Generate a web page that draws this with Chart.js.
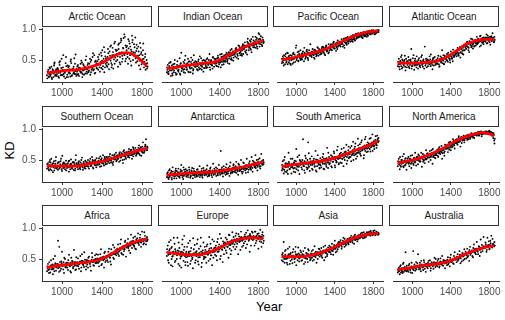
<!DOCTYPE html>
<html lang="en">

<head>
  <meta charset="UTF-8">
  <title>KD by region</title>
  <script src="https://cdn.jsdelivr.net/npm/chart.js"></script>
  <style>
    body {
      margin: 0;
      padding: 0;
      background: #ffffff;
      font-family: 'Liberation Sans', Arial, sans-serif;
    }

    #wrap {
      position: relative;
      width: 505px;
      height: 320px;
      overflow: hidden;
    }

    .strip {
      position: absolute;
      box-sizing: border-box;
      height: 21px;
      width: 110px;
      border: 1px solid #333333;
      background: #ffffff;
      color: #1a1a1a;
      font-size: 10px;
      line-height: 19px;
      text-align: center;
      white-space: nowrap;
    }

    canvas {
      position: absolute;
    }

    .title {
      position: absolute;
      color: #000000;
      font-size: 13px;
    }
  </style>
</head>

<body>
  <div id="wrap">
    <div class="title" style="left:256px;top:299px;">Year</div>
    <div class="title" style="left:0px;top:143px;transform:rotate(-90deg);">KD</div>
  </div>

  <script>
    // facet names, in reading order
    const regions = ['Arctic Ocean', 'Indian Ocean', 'Pacific Ocean', 'Atlantic Ocean',
      'Southern Ocean', 'Antarctica', 'South America', 'North America',
      'Africa', 'Europe', 'Asia', 'Australia'];

    const xTicks = [1000, 1400, 1800];
    const yTicks = [0.5, 1.0];

    // smooth curve, sampled every century
    const lineYears = [850, 950, 1050, 1150, 1250, 1350, 1450, 1550, 1650, 1750, 1850];
    const arcticLine = [0.29, 0.31, 0.33, 0.34, 0.37, 0.42, 0.50, 0.59, 0.62, 0.55, 0.40];
    const indianLine = [0.36, 0.38, 0.41, 0.43, 0.45, 0.47, 0.54, 0.63, 0.71, 0.77, 0.82];
    const pacificLine = [0.50, 0.53, 0.57, 0.61, 0.65, 0.71, 0.78, 0.86, 0.92, 0.96, 0.98];
    const atlanticLine = [0.45, 0.45, 0.45, 0.46, 0.48, 0.54, 0.64, 0.75, 0.81, 0.84, 0.84];
    const southernLine = [0.41, 0.40, 0.40, 0.40, 0.43, 0.46, 0.50, 0.55, 0.60, 0.65, 0.69];
    const antarcticaLine = [0.25, 0.27, 0.28, 0.29, 0.30, 0.31, 0.33, 0.36, 0.39, 0.43, 0.47];
    const southAmLine = [0.39, 0.42, 0.44, 0.46, 0.48, 0.51, 0.56, 0.62, 0.68, 0.74, 0.81];
    const northAmLine = [0.45, 0.48, 0.52, 0.57, 0.64, 0.72, 0.81, 0.88, 0.93, 0.95, 0.90];
    const africaLine = [0.36, 0.39, 0.41, 0.43, 0.45, 0.48, 0.54, 0.64, 0.73, 0.79, 0.83];
    const europeLine = [0.61, 0.59, 0.57, 0.57, 0.59, 0.65, 0.73, 0.80, 0.84, 0.85, 0.83];
    const asiaLine = [0.54, 0.54, 0.54, 0.56, 0.60, 0.66, 0.74, 0.81, 0.87, 0.91, 0.92];
    const australiaLine = [0.33, 0.35, 0.38, 0.40, 0.42, 0.45, 0.51, 0.58, 0.64, 0.69, 0.72];

    // scatter: KD in hundredths, one value per decade from 850 to 1850, three rows per facet
    const arcticDots = [
      '25 31 22 36 28 19 33 41 24 30 27 35 21 48 32 26 38 23 29 55 34 22 40 28 51 25 36 30 44 27 31 42 24 37 29 46 33 26 39 35 28 45 33 52 30 39 61 35 47 41 36 55 44 31 62 49 40 71 38 53 46 68 35 57 74 42 63 51 80 48 66 39 77 55 85 47 70 60 88 52 73 44 81 58 67 90 50 76 62 46 69 53 41 78 60 47 66 38 55 44 36',
      '20 34 27 24 39 30 22 44 26 35 32 23 46 29 37 25 58 31 20 40 26 38 30 23 45 35 28 53 32 24 40 27 36 31 49 22 43 34 28 56 35 30 44 26 50 37 33 58 29 45 48 34 59 42 37 66 45 30 56 50 39 61 52 72 45 58 36 77 54 65 50 75 62 43 82 57 69 92 48 71 60 84 52 72 41 79 63 56 87 65 48 72 58 35 63 51 77 45 60 40 45',
      '31 23 38 26 21 35 28 46 33 24 37 29 42 25 52 34 27 31 45 22 41 29 35 48 24 33 39 27 59 36 26 38 33 44 30 27 41 36 50 31 42 32 38 47 34 55 40 28 49 37 43 51 38 47 57 35 52 63 44 41 55 43 64 49 38 70 58 44 67 60 56 68 46 79 63 52 86 58 74 66 55 69 77 48 64 83 59 71 53 75 57 64 49 70 43 58 52 47 34 50 39'
    ];
    const indianDots = [
      '30 42 27 36 47 33 25 39 44 29 36 48 31 41 26 62 38 34 45 29 43 35 52 30 40 47 37 28 58 42 39 46 33 51 44 36 41 49 31 45 48 37 53 42 46 34 50 41 55 39 44 52 40 57 46 49 38 60 51 43 55 47 62 50 58 44 66 53 61 49 64 56 70 60 52 73 62 67 57 76 68 79 62 74 85 66 72 80 63 77 82 71 88 75 69 84 92 76 80 73 83',
      '38 28 45 33 24 41 35 30 50 37 27 40 34 53 44 32 37 47 35 57 38 45 31 48 36 54 42 33 46 39 47 35 42 38 56 41 34 45 50 37 42 51 38 45 60 43 48 36 47 52 50 41 47 54 43 59 48 42 56 47 49 59 52 45 63 56 51 68 58 54 59 68 54 65 74 61 58 71 66 60 74 64 71 59 78 70 82 67 75 88 74 80 70 86 78 94 72 83 79 87 78',
      '34 31 40 46 37 28 43 33 38 26 42 33 39 28 45 36 41 30 50 39 34 41 47 38 30 44 50 35 40 48 43 40 48 35 45 53 39 43 37 49 40 46 44 50 38 48 42 54 45 47 48 45 53 39 51 46 55 47 50 58 52 54 48 60 53 62 57 50 64 59 61 63 67 57 66 70 64 60 73 68 70 73 66 80 72 76 69 84 74 71 78 76 83 72 81 77 85 89 75 82 80'
    ];
    const pacificDots = [
      '45 56 41 52 60 47 43 55 49 58 50 44 62 53 47 74 56 49 60 52 58 51 64 48 60 55 67 53 62 57 61 55 68 58 52 65 60 71 57 63 66 60 72 62 69 58 74 65 70 63 70 76 66 73 80 69 75 71 82 74 78 72 84 76 81 70 86 79 83 77 85 80 89 83 91 86 82 93 88 90 92 88 95 90 86 96 93 89 97 91 95 98 92 96 94 99 97 93 98 96 97',
      '52 46 58 43 50 54 61 46 53 42 57 51 46 59 55 50 63 48 58 66 53 61 56 70 52 59 63 50 66 60 57 64 60 54 67 62 58 70 64 66 62 68 64 71 60 67 73 66 61 72 73 67 71 78 69 74 65 79 72 77 74 80 77 72 85 79 82 75 88 81 83 87 81 90 84 88 92 85 87 94 89 93 91 87 94 92 90 95 88 97 97 93 95 99 94 96 92 98 95 99 96',
      '48 53 50 56 46 62 51 57 44 54 54 60 52 56 70 53 58 64 55 50 60 55 58 62 57 65 54 61 58 76 63 59 62 66 60 56 64 61 68 59 64 70 67 63 68 71 64 69 76 66 68 72 75 70 74 77 72 68 76 80 80 76 79 82 74 83 77 86 80 84 87 84 86 80 89 83 90 86 91 87 90 91 88 93 91 89 94 92 93 90 94 97 96 93 98 95 97 94 96 98 99'
    ];
    const atlanticDots = [
      '40 52 35 47 58 38 44 50 33 46 42 55 37 49 68 40 46 34 52 43 48 36 53 41 45 58 39 47 72 44 38 51 45 56 40 48 35 53 47 42 50 44 57 39 52 46 66 49 43 55 52 60 47 57 50 64 55 48 62 58 63 56 70 60 67 54 72 65 59 75 74 68 80 71 63 78 85 73 69 82 80 74 88 77 84 72 90 79 86 76 85 80 92 78 87 83 75 89 82 86 80',
      '47 39 43 55 36 49 41 57 45 38 48 39 45 51 36 44 58 41 47 38 42 50 44 38 55 42 49 36 46 52 46 40 49 43 59 45 50 41 55 48 44 53 48 40 56 50 45 58 52 47 56 49 62 53 46 59 52 67 55 61 59 66 62 57 71 63 68 60 74 66 70 77 72 66 81 75 71 84 77 73 83 78 76 85 80 89 74 82 78 87 81 87 77 90 84 79 88 81 94 85 88',
      '43 46 49 40 51 44 47 39 52 48 45 50 42 47 40 53 44 49 42 56 46 44 40 49 47 43 51 45 41 49 50 44 47 51 45 42 53 46 49 45 47 49 43 51 48 54 50 44 57 52 50 55 58 52 57 53 61 58 56 64 61 64 58 67 62 69 61 70 66 72 77 73 76 70 79 74 78 76 80 72 78 82 80 79 83 81 85 84 80 83 82 84 86 83 81 88 85 87 84 79 83'
    ];
    const southernDots = [
      '36 45 33 50 39 42 30 48 37 55 41 34 47 38 52 32 44 39 35 49 37 45 31 42 51 36 40 46 33 58 43 35 48 38 41 54 34 45 39 47 40 50 36 46 43 55 38 49 44 41 47 42 53 39 50 45 58 41 52 48 44 55 49 60 46 53 42 57 51 62 50 58 47 63 54 60 45 66 56 52 62 55 68 58 64 52 71 60 66 57 67 61 74 58 70 65 79 62 72 84 66',
      '43 38 47 35 52 40 45 33 44 39 38 46 36 43 40 57 37 45 42 33 44 38 49 35 43 39 47 41 36 45 38 46 42 35 50 40 44 37 49 42 46 39 43 52 41 47 36 45 50 38 43 49 45 56 40 48 44 51 46 55 52 47 45 53 49 58 47 51 55 48 57 52 61 49 55 58 64 51 59 63 58 64 54 61 67 59 56 65 70 61 63 70 60 66 57 72 68 64 75 69 72',
      '40 35 42 46 33 44 38 41 49 36 45 40 39 48 35 42 46 38 43 40 41 48 39 44 38 46 34 43 50 40 40 44 37 46 43 38 47 41 36 44 42 45 48 40 44 50 46 42 47 53 45 47 43 50 53 46 49 55 43 50 48 51 56 50 54 45 52 59 53 57 53 56 59 54 61 50 57 62 55 60 60 57 63 66 58 62 68 61 64 59 65 63 68 71 64 62 69 66 73 67 70'
    ];
    const antarcticaDots = [
      '22 30 19 35 26 21 38 24 28 33 20 27 36 23 31 42 25 19 34 29 26 33 22 38 28 24 31 20 36 27 30 23 35 27 40 25 32 21 37 28 33 26 41 29 24 36 31 22 44 30 27 38 32 25 42 30 65 35 28 40 34 26 43 31 37 24 46 33 29 41 38 30 47 35 26 42 33 50 37 31 45 36 29 52 40 34 48 38 55 31 47 38 58 42 33 51 45 36 60 44 50',
      '28 21 33 24 29 18 31 26 23 36 32 24 29 21 34 27 22 38 26 31 23 30 26 34 21 29 37 25 32 22 27 34 24 31 22 29 36 26 33 25 29 35 23 32 27 38 25 33 29 36 33 24 36 29 34 26 31 38 23 35 30 38 27 35 32 40 28 36 31 43 34 40 29 37 44 32 39 35 28 46 38 33 42 36 30 45 39 34 43 49 41 46 37 50 39 44 53 40 48 42 43',
      '24 26 22 28 32 25 27 20 30 25 25 30 23 27 25 32 28 24 30 35 29 25 27 31 24 33 27 28 25 30 25 28 31 26 30 27 24 30 29 32 27 31 28 25 33 29 28 31 26 33 30 33 27 31 29 34 28 30 34 29 32 30 35 28 33 36 30 34 37 31 35 33 38 32 36 34 39 31 37 35 40 37 35 41 38 42 36 40 37 44 43 40 45 41 47 42 39 46 44 48 46'
    ];
    const southAmDots = [
      '33 48 28 55 38 30 44 62 35 41 28 52 36 45 30 68 39 33 58 42 47 35 84 40 29 53 44 37 61 32 42 56 34 48 39 65 31 50 44 37 53 38 46 60 35 49 42 70 37 55 45 58 38 52 64 41 55 47 72 43 60 46 68 52 40 63 57 75 49 66 55 70 48 64 80 58 72 52 67 85 62 76 57 82 68 53 74 88 63 79 70 85 64 78 92 73 68 83 76 90 79',
      '42 35 50 31 45 39 27 47 36 52 44 38 31 49 42 35 55 40 27 48 38 50 42 33 57 46 35 79 39 52 48 36 44 52 40 33 47 58 42 36 41 48 55 36 44 52 39 46 62 43 50 40 56 47 61 38 49 66 52 45 53 62 45 57 70 50 64 44 59 72 63 55 73 60 50 69 77 61 56 74 70 60 79 66 72 58 84 69 75 64 77 68 86 73 65 81 74 89 70 84 86',
      '37 40 34 44 41 33 39 45 42 38 40 43 46 37 48 41 44 39 50 45 43 46 40 48 44 38 50 42 47 44 45 42 49 44 47 51 40 46 49 43 47 50 44 52 48 45 53 49 46 51 49 53 47 51 55 50 46 54 52 57 55 58 52 60 54 57 61 55 59 53 60 63 58 66 61 64 59 67 62 65 67 64 70 66 72 68 65 71 69 73 73 76 71 79 75 72 80 77 74 82 81'
    ];
    const northAmDots = [
      '40 52 35 47 44 56 38 49 42 34 46 55 40 51 37 58 44 49 62 41 50 43 57 47 54 39 60 49 45 56 52 61 47 58 50 66 44 56 63 53 58 67 55 71 60 64 52 70 62 75 68 74 63 79 70 66 77 72 82 69 78 84 75 86 80 72 88 82 85 79 86 90 83 88 92 85 89 93 87 91 92 94 90 95 91 96 93 89 95 94 94 97 95 93 96 98 94 92 90 86 82',
      '48 43 55 39 50 45 60 41 53 47 52 44 48 57 46 50 42 54 47 51 55 59 48 52 62 53 47 58 51 66 60 54 57 65 55 61 68 58 54 62 63 57 68 62 66 73 61 67 57 70 74 69 76 67 80 73 71 84 75 78 83 77 80 89 82 86 78 84 90 83 89 86 91 84 90 87 94 88 90 86 94 91 93 96 90 94 97 92 95 93 96 93 97 95 94 96 93 95 92 94 77',
      '44 47 41 50 46 40 48 52 45 49 49 46 52 44 50 48 53 46 51 55 52 50 54 48 56 52 50 55 53 51 56 58 54 60 57 59 55 61 58 60 62 65 61 64 67 63 66 68 64 71 71 73 70 74 72 76 75 78 74 80 80 82 79 83 81 85 84 86 83 87 87 88 86 89 88 90 89 91 90 92 92 93 92 94 93 95 94 93 95 96 95 94 96 95 97 94 96 95 93 91 85'
    ];
    const africaDots = [
      '30 42 27 36 48 33 25 40 55 31 38 80 29 45 34 62 41 27 50 36 44 32 57 38 28 47 35 65 40 33 39 51 34 46 30 58 42 37 49 33 48 36 54 42 31 60 45 39 56 43 44 57 38 51 66 42 50 36 62 47 55 45 67 52 41 60 73 50 58 65 60 74 55 68 82 58 71 63 78 54 70 83 64 77 90 68 80 72 87 66 78 92 73 85 70 95 80 76 88 74 86',
      '38 32 45 28 40 35 50 30 43 37 42 35 70 31 46 39 33 52 37 44 36 48 40 30 52 43 37 45 32 53 45 38 42 55 36 47 40 61 44 38 41 52 45 38 47 53 40 49 44 58 51 44 46 58 40 53 48 60 45 55 48 62 55 46 66 58 52 69 61 56 67 58 63 75 60 70 57 66 80 70 76 68 72 60 79 74 85 70 67 82 84 76 81 90 77 83 74 94 82 79 80',
      '35 37 33 39 36 41 34 38 42 36 39 41 37 40 43 38 45 40 42 39 41 43 39 44 40 46 42 39 45 43 43 41 45 44 47 42 46 44 43 48 45 47 44 46 49 45 48 47 50 46 48 50 47 52 49 51 54 50 53 52 54 57 53 59 56 60 58 62 59 63 64 62 66 65 68 67 70 66 71 69 73 71 74 72 76 75 73 77 76 78 79 77 80 78 81 82 79 83 81 84 82'
    ];
    const europeDots = [
      '55 72 44 66 81 50 38 62 75 47 58 85 42 68 51 36 74 60 88 45 53 70 39 62 80 47 57 35 66 73 48 63 82 41 56 71 37 60 77 52 65 44 74 58 86 50 68 40 62 79 57 72 48 83 63 91 55 70 45 76 68 85 60 78 52 89 73 64 94 70 82 66 92 75 58 87 79 95 70 84 76 90 68 85 97 80 62 88 83 93 88 72 95 80 91 67 86 98 78 90 76',
      '66 48 78 58 40 70 55 85 45 63 50 64 77 39 61 55 82 47 70 40 62 45 76 55 42 68 50 84 58 44 60 75 46 67 53 85 44 64 50 70 53 71 61 47 67 75 56 82 52 68 69 55 78 62 74 50 84 66 79 58 77 64 82 70 90 67 58 80 75 86 74 88 70 82 91 78 65 86 80 72 86 79 93 74 84 88 91 72 95 81 83 95 76 88 84 92 79 87 70 94 88',
      '61 57 64 59 68 54 62 58 66 60 56 60 63 57 54 62 58 65 55 59 57 54 60 58 63 55 52 59 56 61 55 58 53 60 57 62 56 59 54 61 58 62 57 64 60 56 63 61 66 62 64 67 62 70 66 68 72 65 70 73 72 75 70 77 73 79 75 81 77 79 80 78 83 79 82 80 85 81 84 82 84 86 83 87 85 82 88 84 86 85 86 84 87 85 83 88 85 82 86 84 80'
    ];
    const asiaDots = [
      '48 60 78 44 65 52 41 58 70 47 55 43 66 50 62 40 57 69 46 53 61 48 56 42 68 51 59 45 64 53 50 63 47 58 71 53 44 61 56 66 57 68 52 64 48 72 60 55 69 62 70 58 75 63 68 80 61 73 66 78 72 81 67 77 85 70 79 74 83 76 84 78 88 80 86 75 90 83 87 82 88 84 92 86 90 94 85 91 89 93 91 95 88 93 90 96 92 89 94 91 93',
      '57 46 52 63 50 44 67 55 42 60 49 61 53 45 70 56 48 59 51 64 47 58 63 52 45 60 50 66 55 48 59 52 65 49 55 62 58 50 67 54 63 55 59 70 61 53 66 58 64 72 61 69 64 57 73 67 71 63 76 70 78 73 70 80 75 83 72 78 81 74 79 85 82 77 84 88 81 86 79 89 85 90 87 93 84 88 91 86 94 89 94 90 96 92 89 93 97 91 95 90 90',
      '53 55 50 57 54 51 56 52 58 54 52 56 54 51 58 53 55 52 57 54 55 53 57 54 52 56 55 58 53 56 56 58 55 57 60 56 59 57 61 58 60 59 62 61 64 60 63 65 62 66 66 64 68 66 70 67 69 72 70 73 74 72 76 74 77 75 79 77 78 80 81 80 83 81 84 82 85 83 86 85 87 86 88 87 89 88 90 89 90 91 91 90 92 91 92 93 91 92 93 92 92'
    ];
    const australiaDots = [
      '28 36 25 40 31 27 44 33 61 30 35 29 42 32 38 27 63 36 31 45 39 58 33 44 30 41 36 48 34 29 42 35 47 38 31 45 40 34 52 37 44 38 50 36 46 41 55 39 48 35 47 40 53 44 38 57 46 50 42 61 52 45 58 49 63 43 55 60 48 66 58 51 67 55 47 70 60 64 53 74 66 58 78 62 71 55 82 68 63 86 70 77 62 85 73 66 80 88 69 75 71',
      '33 30 38 28 35 42 29 37 32 39 31 40 34 28 44 37 32 41 38 33 43 36 40 34 47 38 32 45 39 42 37 44 40 48 35 42 38 45 41 50 40 47 42 38 51 44 40 48 43 46 43 49 41 47 52 45 48 43 55 49 49 54 47 52 57 51 46 59 55 50 62 56 53 60 65 57 62 55 68 61 60 67 63 58 70 65 61 73 67 71 68 74 65 71 79 67 76 70 83 72 78',
      '31 33 34 32 30 35 33 31 36 34 34 36 33 37 35 34 38 36 35 39 37 38 36 40 38 37 39 41 38 40 40 39 41 42 40 43 41 42 44 41 42 43 41 44 43 45 44 46 43 47 45 46 44 48 47 46 49 48 51 50 51 53 50 54 52 56 55 54 57 58 58 60 59 62 61 60 63 62 64 63 64 66 65 67 66 68 67 69 68 70 69 71 70 72 71 73 72 71 74 73 72'
    ];

    const lines = [arcticLine, indianLine, pacificLine, atlanticLine, southernLine, antarcticaLine,
      southAmLine, northAmLine, africaLine, europeLine, asiaLine, australiaLine];
    const dots = [arcticDots, indianDots, pacificDots, atlanticDots, southernDots, antarcticaDots,
      southAmDots, northAmDots, africaDots, europeDots, asiaDots, australiaDots];

    Chart.defaults.font.family = "'Liberation Sans', Arial, sans-serif";

    const wrap = document.getElementById('wrap');
    const colLeft = [42, 157.7, 273.3, 389];
    const rowTop = [28, 128, 227];
    const panelW = 110, panelH = 54;
    // y tick labels ask for 9px above the plot, so every panel gets the same
    const padTop = 9, padRight = 6, xAxisH = 18;

    function toPoints(rows) {
      const pts = [];
      rows.forEach((row, r) => {
        row.trim().split(/\s+/).forEach((v, i) => {
          pts.push({ x: 850 + i * 10 + r * 3, y: Number(v) / 100 });
        });
      });
      return pts;
    }

    regions.forEach((name, i) => {
      const r = Math.floor(i / 4), c = i % 4;
      const yW = c === 0 ? 42 : 0;

      const strip = document.createElement('div');
      strip.className = 'strip';
      strip.style.left = colLeft[c] + 'px';
      strip.style.top = (rowTop[r] - 22) + 'px';
      strip.textContent = name;
      wrap.appendChild(strip);

      const cv = document.createElement('canvas');
      cv.width = yW + panelW + padRight;
      cv.height = padTop + panelH + xAxisH;
      cv.style.left = (colLeft[c] - yW) + 'px';
      cv.style.top = (rowTop[r] - padTop) + 'px';
      wrap.appendChild(cv);

      new Chart(cv.getContext('2d'), {
        type: 'scatter',
        data: {
          datasets: [{
            type: 'line',
            data: lineYears.map((x, k) => ({ x: x, y: lines[i][k] })),
            borderColor: '#ff0000',
            borderWidth: 2.8,
            pointRadius: 0,
            cubicInterpolationMode: 'monotone',
            fill: false
          }, {
            data: toPoints(dots[i]),
            pointRadius: 0.95,
            pointBackgroundColor: '#000000',
            pointBorderWidth: 0
          }]
        },
        options: {
          responsive: false,
          animation: false,
          devicePixelRatio: 1,
          layout: { padding: { top: padTop, right: padRight, left: 0, bottom: 0 } },
          plugins: { legend: { display: false }, tooltip: { enabled: false } },
          scales: {
            x: {
              type: 'linear',
              min: 800,
              max: 1900,
              afterBuildTicks: s => { s.ticks = xTicks.map(v => ({ value: v })); },
              afterFit: s => { s.height = xAxisH; },
              grid: { drawOnChartArea: false, tickLength: 3, color: '#333333' },
              border: { color: '#333333', width: 1 },
              ticks: { font: { size: 10 }, color: '#4d4d4d', padding: 2, maxRotation: 0, callback: v => String(v) }
            },
            y: {
              display: c === 0,
              min: 0.14,
              max: 1.025,
              afterBuildTicks: s => { s.ticks = yTicks.map(v => ({ value: v })); },
              afterFit: s => { s.width = yW; },
              grid: { drawOnChartArea: false, tickLength: 3, color: '#333333' },
              border: { color: '#333333', width: 1 },
              ticks: { font: { size: 10 }, color: '#4d4d4d', padding: 3, callback: v => v.toFixed(1) }
            }
          }
        }
      });
    });
  </script>
</body>

</html>
